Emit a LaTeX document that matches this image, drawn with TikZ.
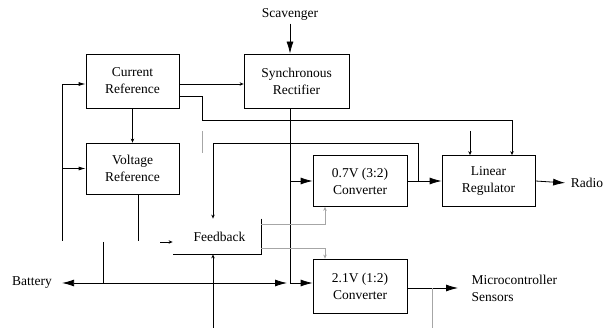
\documentclass[tikz,border=0pt]{standalone}
\usepackage{fontspec}
\setmainfont{Liberation Serif}
\usetikzlibrary{arrows.meta,calc}

\begin{document}
\begin{tikzpicture}[x=1pt, y=-1pt, line width=0.8pt,
    font=\fontsize{13.5}{17}\selectfont,
    blk/.style={draw, align=center, inner sep=0pt},
    big/.style={-{Latex[length=12pt,width=7pt]}},
    mid/.style={-{Latex[length=7pt,width=4pt]}},
    tiny/.style={-{Stealth[length=4pt,width=3.5pt]}},
    faint/.style={draw=black!35, line width=0.6pt}]
    \useasboundingbox (0,0) rectangle (610,328);

    % blocks
    \node[blk, minimum width=93pt, minimum height=54pt] (curref) at (132.5,81) {Current\\Reference};
    \node[blk, minimum width=105pt, minimum height=54pt] (sync) at (296.5,81) {Synchronous\\Rectifier};
    \node[blk, minimum width=93pt, minimum height=51pt] (voltref) at (132.5,168.5) {Voltage\\Reference};
    \node[blk, minimum width=94pt, minimum height=51pt] (conv07) at (360,181) {0.7V (3:2)\\Converter};
    \node[blk, minimum width=93pt, minimum height=51pt] (linreg) at (488.5,181) {Linear\\Regulator};
    \node[blk, minimum width=94pt, minimum height=54pt] (conv21) at (360,286) {2.1V (1:2)\\Converter};
    \node[minimum width=88pt, minimum height=35pt, inner sep=0pt] (fb) at (217,236.5) {\hspace{5pt}Feedback};
    \draw (fb.north east) -- (fb.south east) -- (fb.south west);

    % labels
    \node (scav) at (290,14) {Scavenger};
    \node (batt) at (32,283) {Battery};
    \node (radio) at (587,183) {Radio};
    \node[anchor=west, align=left] (micro) at (468,288) {Microcontroller\\Sensors};

    \coordinate (bus) at (290,283);
    \coordinate (loopbot) at (62,241);
    \coordinate (fbtop) at (213,143);
    \coordinate (fbin) at (160,242);
    \coordinate (lrin) at (470,131);

    % connectors
    \draw[big] (scav.south) -- ([xshift=-6.5pt]sync.north);
    \draw[tiny] ([yshift=-3pt]curref.east) -- ([yshift=-3pt]sync.west);
    \draw[tiny] (curref.south) -- (voltref.north);
    \draw[tiny] ([yshift=-15pt]curref.east) -- ++(23,0) -- ++(0,24) -| ([xshift=23.5pt]linreg.north);
    \draw[faint] (202,131) -- (202,153);
    \draw[tiny] (lrin) -- (lrin |- linreg.north);

    \draw[mid] (loopbot) |- ([yshift=-3pt]curref.west);
    \draw[mid] (loopbot |- voltref.west) -- (voltref.west);
    \draw ([xshift=5.5pt]voltref.south) -- ++(0,47);

    \draw[{Latex[length=12pt,width=7pt]}-{Latex[length=12pt,width=7pt]}, shorten <=6.5pt, shorten >=3pt] (batt.east) -- (bus);
    \draw (103,242) -- (103,283);
    \draw ([xshift=-6.5pt]sync.south) -- (bus);
    \draw[big] (bus |- conv07.west) -- (conv07.west);
    \draw[big] (bus) -- (bus -| conv21.west);

    \draw[big] (conv07.east) -- (linreg.west);
    \draw[tiny] ([xshift=11pt]conv07.east) |- (fbtop) -- ([xshift=-4pt]fb.north);
    \draw[big, shorten >=2pt] (linreg.east) -- (radio.west);
    \draw[big, shorten >=10pt] (conv21.east |- micro.west) -- (micro.west);
    \draw[faint] (432,288) -- (432,328);

    \draw[tiny] (fbin) -- (fbin -| fb.west);
    \draw[tiny] (213,328) -- ([xshift=-4pt]fb.south);
    \draw[faint, tiny] ([yshift=12.5pt]fb.east) -| ([xshift=-35pt]conv07.south);
    \draw[faint, tiny] ([yshift=-11.5pt]fb.east) -| ([xshift=-35pt]conv21.north);
\end{tikzpicture}
\end{document}
